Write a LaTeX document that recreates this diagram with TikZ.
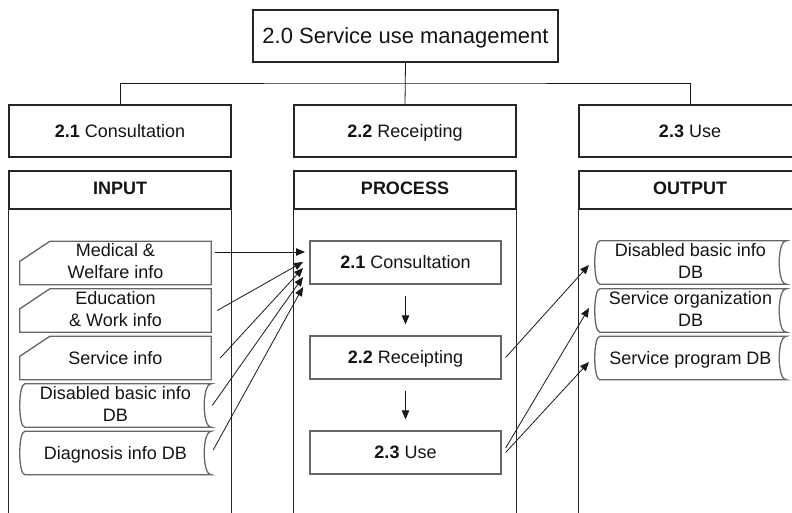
\documentclass[tikz,border=0pt]{standalone}
\usepackage{fontspec}
\setmainfont{Liberation Sans}
\usetikzlibrary{arrows.meta}
\newcommand\nstrut{\rule[-3.8pt]{0pt}{20.1pt}}
\newcommand\hstrut{\rule[-7.8pt]{0pt}{24.1pt}}
\newcommand\tstrut{\rule[-4.7pt]{0pt}{24.6pt}}
\begin{document}
\begin{tikzpicture}[x=1pt,y=-1pt,
  every node/.style={text=black!92, font=\fontsize{18}{22}\selectfont, inner sep=0pt, align=center},
  st/.style={execute at begin node=\nstrut, execute at end node=\nstrut},
  box/.style={draw=black!85, line width=1.1pt, rectangle},
  rowbox/.style={box, st, minimum width=222pt, minimum height=52pt},
  colhead/.style={box, minimum width=222pt, minimum height=38pt, font=\fontsize{18}{22}\selectfont\bfseries,
    execute at begin node=\hstrut},
  pbox/.style={draw=black!60, line width=1.3pt, rectangle, st, minimum width=191pt, minimum height=43pt},
  slot/.style={rectangle, st, minimum width=191pt, minimum height=43pt},
  shp/.style={draw=black!60, line width=1.3pt},
  link/.style={draw=black!90, line width=0.8pt},
  arr/.style={link, -{Triangle[length=9pt,width=7.5pt]}},
]
\useasboundingbox (0,0) rectangle (792,512);
\clip (0,0) rectangle (792,512);

% top level
\node[box, minimum width=305pt, minimum height=52pt, font=\fontsize{22}{26}\selectfont,
  execute at begin node=\tstrut] (top) at (405.5,36) {2.0 Service use management};
\node[rowbox] (r1) at (120,131) {\textbf{2.1} Consultation};
\node[rowbox] (r2) at (405,131) {\textbf{2.2} Receipting};
\node[rowbox] (r3) at (690,131) {\textbf{2.3} Use};
\coordinate (bus) at (405,83);
\draw[link] (top.south) -- (r2.north);
\draw[link] (r1.north) |- (bus) -| (r3.north);

% columns
\node[colhead] (hin) at (120,190) {INPUT};
\node[colhead] (hpr) at (405,190) {PROCESS};
\node[colhead] (hout) at (690,190) {OUTPUT};
\foreach \h in {hin,hpr,hout}{
  \draw[box] (\h.south west) -- ++(0,340);
  \draw[box] (\h.south east) -- ++(0,340);
}

% process boxes
\node[pbox] (p1) at (405.5,262.5) {\textbf{2.1} Consultation};
\node[pbox] (p2) at (405.5,357.5) {\textbf{2.2} Receipting};
\node[pbox] (p3) at (405.5,452.5) {\textbf{2.3} Use};
\draw[arr, shorten <=11pt, shorten >=11pt] (p1) -- (p2);
\draw[arr, shorten <=11pt, shorten >=11pt] (p2) -- (p3);

% input: manual inputs
\node[slot] (med) at (115.5,263) {Medical \&\\Welfare info};
\node[slot] (edu) at (115.5,310.5) {Education\\\& Work info};
\node[slot] (srv) at (115.5,358) {Service info};
\foreach \n in {med,edu,srv}{
  \draw[shp] ([xshift=30pt]\n.north west) -- (\n.north east) -- (\n.south east) -- (\n.south west) -- ([yshift=-20pt]\n.north west) -- cycle;
}
% input: stored data
\node[slot] (dis) at (115.5,405.5) {Disabled basic info\\DB};
\node[slot] (dia) at (115.5,453) {Diagnosis info DB};
% output: stored data
\node[slot] (o1) at (690.5,262.5) {Disabled basic info\\DB};
\node[slot] (o2) at (690.5,310.5) {Service organization\\DB};
\node[slot] (o3) at (690.5,358) {Service program DB};
\foreach \n in {dis,dia,o1,o2,o3}{
  \draw[shp] ([xshift=5pt]\n.north west) -- (\n.north east)
    .. controls ([xshift=-9.3pt]\n.north east) and ([xshift=-9.3pt]\n.south east) .. (\n.south east)
    -- ([xshift=5pt]\n.south west)
    .. controls ([xshift=-1.7pt]\n.south west) and ([xshift=-1.7pt]\n.north west) .. ([xshift=5pt]\n.north west) -- cycle;
}

% input arrows
\coordinate (t1) at (305,252);
\coordinate (t2) at (303,262);
\coordinate (t3) at (303,268);
\coordinate (t4) at (303,277);
\coordinate (t5) at (303,287);
\draw[arr] ([xshift=4pt,yshift=11pt]med.east) -- (t1);
\draw[arr] ([xshift=6pt]edu.east) -- (t2);
\draw[arr] ([xshift=9pt]srv.east) -- (t3);
\draw[arr] ([xshift=1pt]dis.east) -- (t4);
\draw[arr] ([xshift=2pt,yshift=3pt]dia.east) -- (t5);

% output arrows
\coordinate (u1) at (589,265);
\coordinate (u2) at (589,308);
\coordinate (u3) at (589,362);
\draw[arr] ([xshift=4pt]p2.east) -- (u1);
\draw[arr] ([xshift=4pt,yshift=4.5pt]p3.east) -- (u2);
\draw[arr] ([xshift=4pt]p3.east) -- (u3);
\end{tikzpicture}
\end{document}
